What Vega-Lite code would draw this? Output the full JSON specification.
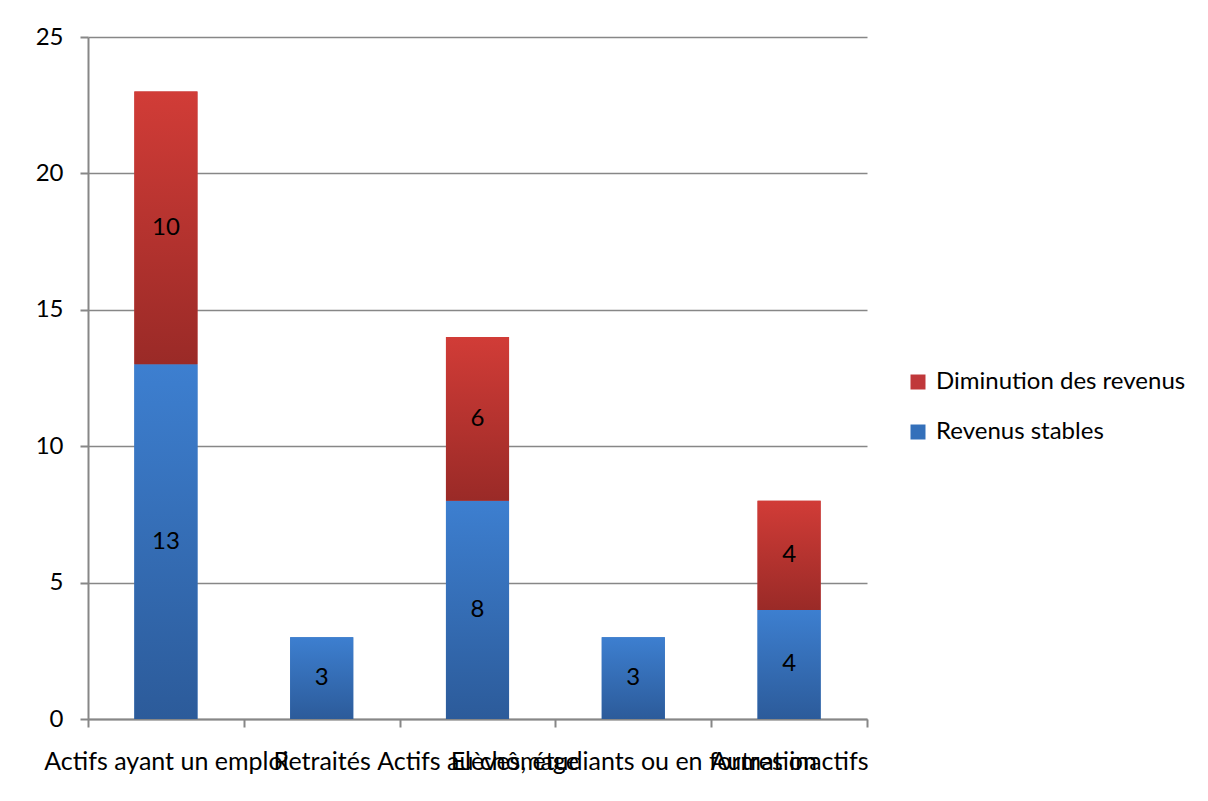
{
  "$schema": "https://vega.github.io/schema/vega-lite/v6.json",
  "width": 779,
  "height": 682,
  "autosize": {"type": "none"},
  "padding": {"left": 88, "top": 37, "right": 341, "bottom": 82},
  "background": "white",
  "config": {
    "font": "Lato",
    "view": {"stroke": null},
    "axis": {"labelFont": "Lato", "labelFontSize": 24, "labelColor": "#000000"},
    "legend": {"labelFont": "Lato", "labelFontSize": 24, "labelColor": "#000000"}
  },
  "data": {
    "values": [
      {"categorie": "Actifs ayant un emploi", "serie": "Revenus stables", "ordre": 1, "valeur": 13},
      {"categorie": "Actifs ayant un emploi", "serie": "Diminution des revenus", "ordre": 2, "valeur": 10},
      {"categorie": "Retraités", "serie": "Revenus stables", "ordre": 1, "valeur": 3},
      {"categorie": "Actifs au chômage", "serie": "Revenus stables", "ordre": 1, "valeur": 8},
      {"categorie": "Actifs au chômage", "serie": "Diminution des revenus", "ordre": 2, "valeur": 6},
      {"categorie": "Elèves, étudiants ou en formation", "serie": "Revenus stables", "ordre": 1, "valeur": 3},
      {"categorie": "Autres inactifs", "serie": "Revenus stables", "ordre": 1, "valeur": 4},
      {"categorie": "Autres inactifs", "serie": "Diminution des revenus", "ordre": 2, "valeur": 4}
    ]
  },
  "transform": [
    {"stack": "valeur", "groupby": ["categorie"], "sort": [{"field": "ordre", "order": "ascending"}], "as": ["debut", "fin"]},
    {"calculate": "(datum.debut + datum.fin) / 2", "as": "milieu"}
  ],
  "encoding": {
    "x": {
      "field": "categorie",
      "type": "nominal",
      "sort": ["Actifs ayant un emploi", "Retraités", "Actifs au chômage", "Elèves, étudiants ou en formation", "Autres inactifs"],
      "scale": {"paddingInner": 0, "paddingOuter": 0},
      "axis": {
        "title": null,
        "labelAngle": 0,
        "labelPadding": 22,
        "labelFontSize": 25,
        "labelOverlap": false,
        "labelLimit": 0,
        "tickBand": "extent",
        "tickSize": 8,
        "tickColor": "#878787",
        "tickWidth": 2,
        "domainColor": "#878787",
        "domainWidth": 2,
        "grid": false
      }
    },
    "y": {
      "field": "debut",
      "type": "quantitative",
      "scale": {"domain": [0, 25], "nice": false, "zero": true},
      "axis": {
        "title": null,
        "values": [0, 5, 10, 15, 20, 25],
        "tickSize": 8,
        "tickColor": "#878787",
        "tickWidth": 2,
        "domainColor": "#878787",
        "domainWidth": 2,
        "gridColor": "#878787",
        "gridWidth": 1.5,
        "labelPadding": 17
      }
    }
  },
  "layer": [
    {
      "mark": {"type": "bar", "width": {"band": 0.405}},
      "encoding": {
        "y2": {"field": "fin"},
        "color": {
          "field": "serie",
          "type": "nominal",
          "scale": {"domain": ["Diminution des revenus", "Revenus stables"], "range": ["#C0383A", "#3470BA"]},
          "legend": {
            "title": null,
            "orient": "none",
            "legendX": 818,
            "legendY": 333,
            "symbolType": "square",
            "symbolSize": 225,
            "symbolStrokeWidth": 0,
            "rowPadding": 26,
            "labelOffset": 6,
            "labelLimit": 0
          }
        }
      }
    },
    {
      "transform": [{"filter": "datum.serie === 'Revenus stables'"}],
      "mark": {
        "type": "bar",
        "width": {"band": 0.405},
        "color": {"gradient": "linear", "x1": 0, "y1": 0, "x2": 0, "y2": 1, "stops": [{"offset": 0, "color": "#3D7FD0"}, {"offset": 1, "color": "#2C5B9A"}]}
      },
      "encoding": {"y2": {"field": "fin"}}
    },
    {
      "transform": [{"filter": "datum.serie === 'Diminution des revenus'"}],
      "mark": {
        "type": "bar",
        "width": {"band": 0.405},
        "color": {"gradient": "linear", "x1": 0, "y1": 0, "x2": 0, "y2": 1, "stops": [{"offset": 0, "color": "#D13C37"}, {"offset": 1, "color": "#9A2A27"}]}
      },
      "encoding": {"y2": {"field": "fin"}}
    },
    {
      "mark": {"type": "text", "fontSize": 24, "color": "#000000", "font": "Lato", "baseline": "middle"},
      "encoding": {
        "y": {"field": "milieu", "type": "quantitative"},
        "text": {"field": "valeur", "type": "quantitative"}
      }
    }
  ]
}
